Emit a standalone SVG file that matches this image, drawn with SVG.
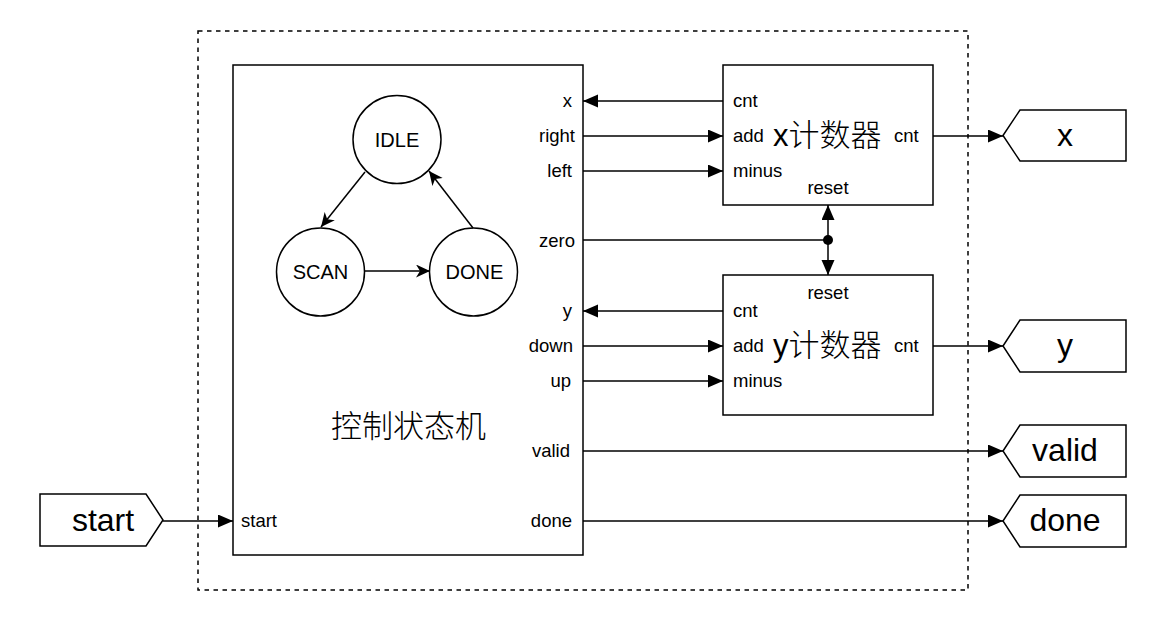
<svg xmlns="http://www.w3.org/2000/svg" width="1162" height="617" viewBox="0 0 1162 617">
<style>
.box{fill:#fff;stroke:#000;stroke-width:1.5}
.w{fill:none;stroke:#000;stroke-width:1.5}
.t{font-family:"Liberation Sans",Arial,sans-serif;font-size:18.5px;fill:#000}
.s{font-family:"Liberation Sans",Arial,sans-serif;font-size:20px;fill:#000;text-anchor:middle}
.r{text-anchor:end}
.m{text-anchor:middle}
.big{font-family:"Liberation Sans",Arial,sans-serif;font-size:32px;fill:#000;text-anchor:middle}
.cjk{font-family:"Liberation Sans","Noto Sans CJK SC",sans-serif;font-size:31px;fill:#000;font-weight:300}
</style>
<defs>
<marker id="blk" markerUnits="userSpaceOnUse" markerWidth="16" markerHeight="14" refX="15" refY="6.5" orient="auto"><path d="M0,0 L15,6.5 L0,13 Z" fill="#000"/></marker>
<marker id="cls" markerUnits="userSpaceOnUse" markerWidth="16" markerHeight="14" refX="14" refY="6.5" orient="auto"><path d="M0,0 L14,6.5 L0,13 L4,6.5 Z" fill="#000"/></marker>
</defs>
<rect x="198" y="31" width="770" height="559" fill="none" stroke="#000" stroke-width="1.5" stroke-dasharray="4.5 4.5"/>
<g id="fsm">
<rect class="box" x="233" y="65" width="350" height="490"/>
<text class="cjk" x="408.5" y="437" text-anchor="middle">控制状态机</text>
<g class="t r">
<text x="572" y="107">x</text>
<text x="575" y="142">right</text>
<text x="572" y="177">left</text>
<text x="575" y="247">zero</text>
<text x="572" y="317">y</text>
<text x="573" y="352">down</text>
<text x="571" y="387">up</text>
<text x="570" y="457">valid</text>
<text x="572" y="527">done</text>
</g>
<text class="t" x="241" y="527">start</text>
</g>
<g id="idle"><circle class="box" cx="397" cy="139.5" r="44"/><text class="s" x="397" y="147">IDLE</text></g>
<g id="scan"><circle class="box" cx="320.5" cy="272" r="44"/><text class="s" x="320.5" y="279">SCAN</text></g>
<g id="done_state"><circle class="box" cx="473.5" cy="272" r="44"/><text class="s" x="474.5" y="279">DONE</text></g>
<g id="xcnt">
<rect class="box" x="723" y="65" width="210" height="140"/>
<text class="t" x="733" y="107">cnt</text>
<text class="t" x="733" y="142">add</text>
<text class="t" x="733" y="177">minus</text>
<text class="t m" x="828" y="194">reset</text>
<text class="t" x="894" y="142">cnt</text>
<text class="cjk" x="773" y="146">x计数器</text>
</g>
<g id="ycnt">
<rect class="box" x="723" y="275" width="210" height="140"/>
<text class="t m" x="828" y="299">reset</text>
<text class="t" x="733" y="317">cnt</text>
<text class="t" x="733" y="352">add</text>
<text class="t" x="733" y="387">minus</text>
<text class="t" x="894" y="352">cnt</text>
<text class="cjk" x="773" y="356">y计数器</text>
</g>
<g id="port_start"><path class="box" d="M40,494 L146,494 L163,520 L146,546 L40,546 Z"/><text class="big" x="103" y="531">start</text></g>
<g id="port_x"><path class="box" d="M1003,135.5 L1020,110 L1126,110 L1126,161 L1020,161 Z"/><text class="big" x="1065" y="146">x</text></g>
<g id="port_y"><path class="box" d="M1003,346 L1020,320 L1126,320 L1126,372 L1020,372 Z"/><text class="big" x="1065" y="356">y</text></g>
<g id="port_valid"><path class="box" d="M1003,451 L1020,425 L1126,425 L1126,477 L1020,477 Z"/><text class="big" x="1065" y="461">valid</text></g>
<g id="port_done"><path class="box" d="M1003,521 L1020,495 L1126,495 L1126,547 L1020,547 Z"/><text class="big" x="1065" y="531">done</text></g>
<g id="connectors">
<path class="w" d="M365,172 L321,227" marker-end="url(#cls)"/>
<path class="w" d="M364,271 L430,271" marker-end="url(#cls)"/>
<path class="w" d="M473,228 L429,171" marker-end="url(#cls)"/>
<path class="w" d="M723,101 L583,101" marker-end="url(#blk)"/>
<path class="w" d="M583,136 L723,136" marker-end="url(#blk)"/>
<path class="w" d="M583,171 L723,171" marker-end="url(#blk)"/>
<path class="w" d="M583,240 L828,240"/>
<path class="w" d="M828,240 L828,205" marker-end="url(#blk)"/>
<path class="w" d="M828,240 L828,275" marker-end="url(#blk)"/>
<circle cx="828" cy="240" r="5" fill="#000"/>
<path class="w" d="M723,311 L583,311" marker-end="url(#blk)"/>
<path class="w" d="M583,346 L723,346" marker-end="url(#blk)"/>
<path class="w" d="M583,381 L723,381" marker-end="url(#blk)"/>
<path class="w" d="M583,451 L1003,451" marker-end="url(#blk)"/>
<path class="w" d="M583,521 L1003,521" marker-end="url(#blk)"/>
<path class="w" d="M933,136 L1003,136" marker-end="url(#blk)"/>
<path class="w" d="M933,346 L1003,346" marker-end="url(#blk)"/>
<path class="w" d="M163,521 L233,521" marker-end="url(#blk)"/>
</g>
</svg>
